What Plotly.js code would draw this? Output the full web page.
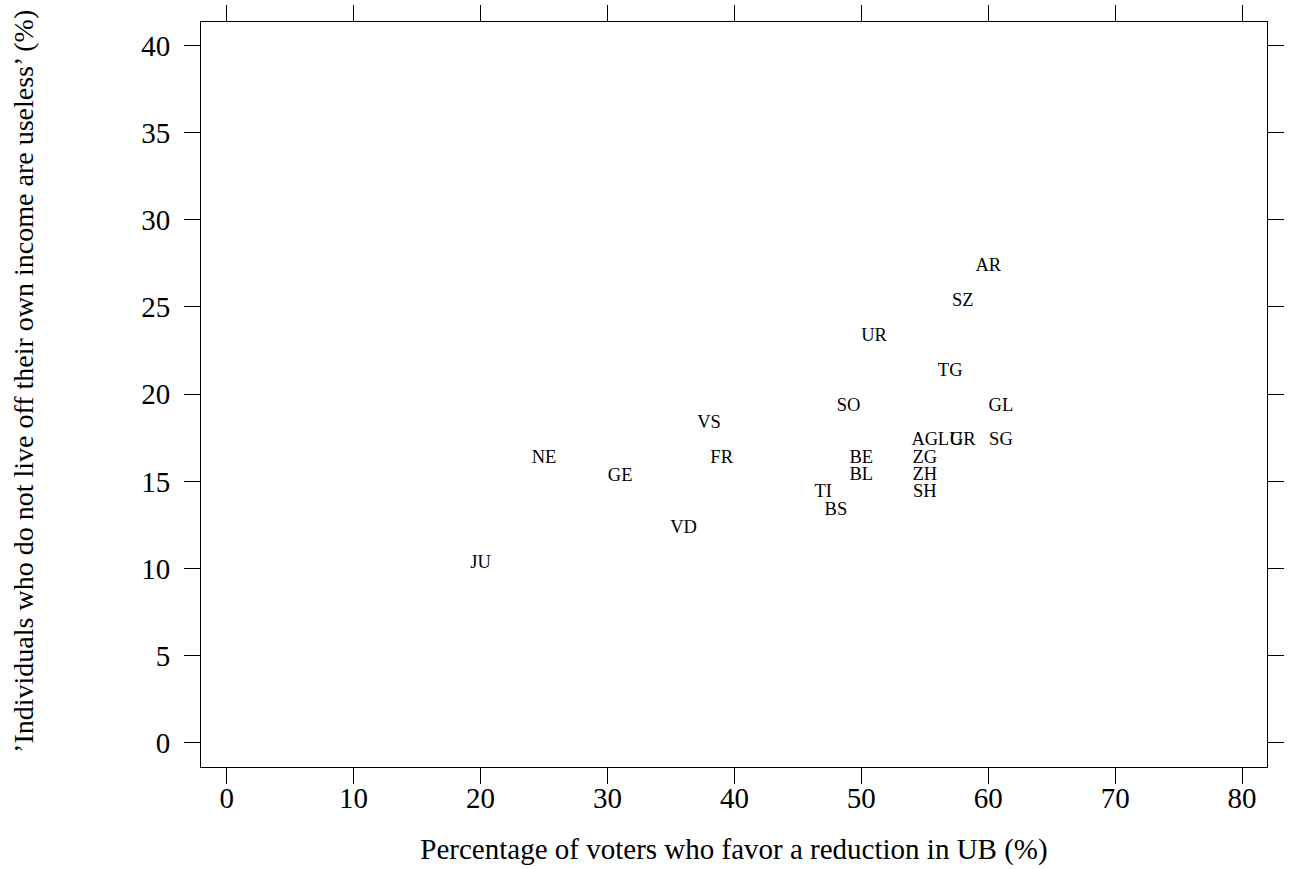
<!DOCTYPE html>
<html>
<head>
<meta charset="utf-8">
<script src="https://cdn.plot.ly/plotly-3.0.1.min.js"></script>
<style>html,body{margin:0;padding:0;background:#fff;}#chart{width:1296px;height:869px;}</style>
</head>
<body>
<div id="chart"></div>
<script>
// Canton labels and their values
const cantons = ["AR","SZ","UR","TG","SO","GL","AG","LU","GR","SG","BE","ZG","BL","ZH","TI","SH","BS","VS","NE","FR","GE","VD","JU"];
const reductionUB = [60, 58, 51, 57, 49, 61, 55, 57, 58, 61, 50, 55, 50, 55, 47, 55, 48, 38, 25, 39, 31, 36, 20];
const uselessPct  = [27.3, 25.3, 23.3, 21.3, 19.3, 19.3, 17.35, 17.35, 17.35, 17.35, 16.3, 16.3, 15.35, 15.35, 14.35, 14.35, 13.35, 18.3, 16.3, 16.3, 15.3, 12.3, 10.3];
const xTicks = [0, 10, 20, 30, 40, 50, 60, 70, 80];
const yTicks = [0, 5, 10, 15, 20, 25, 30, 35, 40];
const xTitle = 'Percentage of voters who favor a reduction in UB (%)';
const yTitle = '\u2019Individuals who do not live off their own income are useless\u2019 (%)';

const serif = '"Liberation Serif", "Times New Roman", Times, serif';

const trace = {
  type: 'scatter',
  mode: 'text',
  x: reductionUB,
  y: uselessPct,
  text: cantons,
  textposition: 'middle center',
  textfont: {family: serif, size: 18.5, color: '#000'},
  hoverinfo: 'text',
  showlegend: false
};

function axisBase() {
  return {
    showline: true,
    linecolor: '#000',
    linewidth: 1,
    mirror: 'ticks',
    ticks: 'outside',
    ticklen: 16,
    tickwidth: 1,
    tickcolor: '#000',
    showgrid: false,
    zeroline: false,
    tickmode: 'array',
    tickfont: {family: serif, size: 29, color: '#000'}
  };
}

const layout = {
  width: 1296,
  height: 869,
  paper_bgcolor: '#fff',
  plot_bgcolor: '#fff',
  margin: {l: 201, r: 29, t: 22, b: 102, pad: 0},
  font: {family: serif, color: '#000'},
  xaxis: Object.assign(axisBase(), {
    range: [-2.02, 81.96],
    tickvals: xTicks,
    ticktext: xTicks.map(String),
    ticklabelstandoff: -11,
    title: {text: xTitle, font: {family: serif, size: 29, color: '#000'}, standoff: 25}
  }),
  yaxis: Object.assign(axisBase(), {
    range: [-1.38, 41.34],
    tickvals: yTicks,
    ticktext: yTicks.map(String),
    ticklabelstandoff: 8
  }),
  annotations: [{
    text: yTitle,
    xref: 'paper', yref: 'paper',
    x: -0.166, y: 0.517,
    xanchor: 'center', yanchor: 'middle',
    textangle: -90,
    showarrow: false,
    font: {family: serif, size: 28, color: '#000'}
  }]
};

Plotly.newPlot('chart', [trace], layout, {displayModeBar: false, staticPlot: true});
</script>
</body>
</html>
